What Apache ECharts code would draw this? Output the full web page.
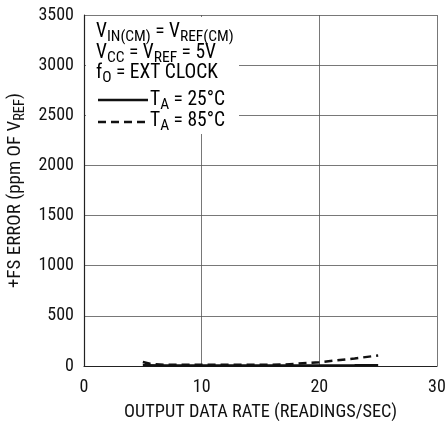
<!DOCTYPE html>
<html><head><meta charset="utf-8">
<script src="https://cdn.jsdelivr.net/npm/echarts@6/dist/echarts.min.js"></script>
<style>html,body{margin:0;padding:0;background:#fff}#c{width:446px;height:421px}</style>
</head><body><div id="c"></div>
<script>
var xTicks = [0, 10, 20, 30];
var yTicks = [0, 500, 1000, 1500, 2000, 2500, 3000, 3500];
var rate25 = [5, 7, 10, 13, 17, 20, 23, 25];
var err25  = [8, 6, 5, 5, 5, 6, 7, 8];
var rate85 = [5, 5.6, 7, 10, 13, 17, 20, 23, 25];
var err85  = [40, 22, 12, 12, 12, 14, 38, 75, 105];

var FONT = '"Liberation Sans Narrow","Roboto Condensed","Liberation Sans",Arial,sans-serif';
function pairs(xs, ys){ return xs.map(function(x,i){return [x, ys[i]];}); }
var annRich = {
  n: {fontSize: 19.5, fontFamily: FONT, color: '#111', lineHeight: 20, verticalAlign: 'top'},
  s: {fontSize: 15.5, fontFamily: FONT, color: '#111', lineHeight: 16, verticalAlign: 'top', padding: [7, 0, 0, 0]}
};
var nameRich = {
  n: {fontSize: 19, fontFamily: FONT, color: '#111', lineHeight: 20, verticalAlign: 'top'},
  s: {fontSize: 14.5, fontFamily: FONT, color: '#111', lineHeight: 15, verticalAlign: 'top', padding: [7, 0, 0, 0]}
};
var chart = echarts.init(document.getElementById('c'), null, {renderer: 'canvas'});
chart.setOption({
  animation: false,
  grid: {left: 84, right: 9, top: 15, bottom: 55, containLabel: false, outerBoundsMode: 'none'},
  xAxis: {
    type: 'value', min: 0, max: 30, interval: 10,
    axisLine: {lineStyle: {color: '#222', width: 1.2}},
    axisTick: {show: false},
    splitLine: {show: true, lineStyle: {color: '#555', width: 0.8}},
    axisLabel: {fontSize: 18, fontFamily: FONT, color: '#111', margin: 12,
      formatter: function(v){ return xTicks.indexOf(v) >= 0 ? String(v) : ''; }},
    name: 'OUTPUT DATA RATE (READINGS/SEC)', nameLocation: 'middle', nameGap: 37,
    nameTextStyle: {fontSize: 18.3, fontFamily: FONT, color: '#111'}
  },
  yAxis: {
    type: 'value', min: 0, max: 3500, interval: 500,
    axisLine: {show: true, lineStyle: {color: '#222', width: 1.2}},
    axisTick: {show: false},
    splitLine: {show: true, lineStyle: {color: '#555', width: 0.8}},
    axisLabel: {fontSize: 18, fontFamily: FONT, color: '#111', margin: 10,
      formatter: function(v){ return yTicks.indexOf(v) >= 0 ? String(v) : ''; }},
    name: '{n|+FS ERROR (ppm OF V}{s|REF}{n|)}', nameLocation: 'middle', nameGap: 38, nameRotate: 90,
    nameTextStyle: {rich: nameRich}
  },
  series: [
    {type: 'line', data: pairs(rate25, err25), showSymbol: false, lineStyle: {color: '#111', width: 2.5, type: 'solid'}, z: 3},
    {type: 'line', data: pairs(rate85, err85), showSymbol: false, lineStyle: {color: '#111', width: 2.5, type: [8, 5]}, z: 4}
  ],
  graphic: [
    {type: 'rect', left: 86, top: 17, shape: {width: 153, height: 117}, style: {fill: '#fff'}, z: 10},
    {type: 'text', left: 96, top: 22, z: 11, style: {text: '{n|V}{s|IN(CM)}{n| = V}{s|REF(CM)}', rich: annRich}},
    {type: 'text', left: 96, top: 43, z: 11, style: {text: '{n|V}{s|CC}{n| = V}{s|REF}{n| = 5V}', rich: annRich}},
    {type: 'text', left: 96, top: 63, z: 11, style: {text: '{n|f}{s|O}{n| = EXT CLOCK}', rich: annRich}},
    {type: 'line', z: 11, shape: {x1: 98, y1: 100, x2: 148, y2: 100}, style: {stroke: '#111', lineWidth: 2.5}},
    {type: 'line', z: 11, shape: {x1: 98, y1: 122, x2: 148, y2: 122}, style: {stroke: '#111', lineWidth: 2.5, lineDash: [8, 5]}},
    {type: 'text', left: 150, top: 90, z: 11, style: {text: '{n|T}{s|A}{n| = 25°C}', rich: annRich}},
    {type: 'text', left: 150, top: 111, z: 11, style: {text: '{n|T}{s|A}{n| = 85°C}', rich: annRich}}
  ]
});
</script></body></html>
